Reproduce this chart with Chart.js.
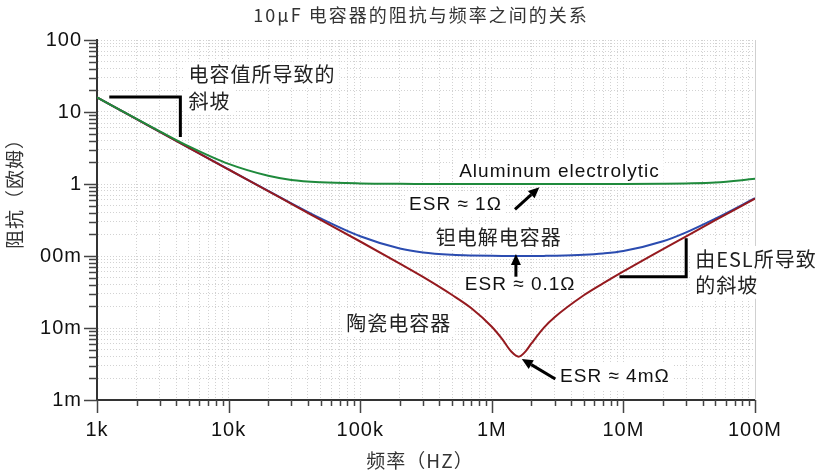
<!DOCTYPE html>
<html>
<head>
<meta charset="utf-8">
<script src="https://cdn.jsdelivr.net/npm/chart.js@4/dist/chart.umd.min.js"></script>
<style>
  html, body { margin: 0; padding: 0; background: #fff; }
  canvas { display: block; }
</style>
</head>
<body>
<canvas id="zchart" width="824" height="474"></canvas>
<script>
// impedance vs frequency
const freqHz = [1e3, 2e3, 3e3, 5e3, 1e4, 2e4, 3e4, 5e4, 1e5, 2e5, 3e5, 5e5, 7e5,
  1e6, 1.2e6, 1.4e6, 1.6e6, 1.8e6, 2e6, 2.5e6, 3e6, 5e6, 7e6, 1e7, 2e7, 3e7, 5e7, 1e8];

const aluminumZ = [15.95, 8.02, 5.40, 3.33, 1.90, 1.30, 1.14, 1.06, 1.02, 1.006, 1.003, 1.0, 1.0,
  1.0, 1.0, 1.0, 1.0, 1.0, 1.0, 1.0, 1.0, 1.0, 1.001, 1.002, 1.008, 1.018, 1.048, 1.18];

const tantalumZ = [15.92, 7.96, 5.31, 3.18, 1.594, 0.802, 0.540, 0.333, 0.188, 0.127, 0.112, 0.104, 0.1017,
  0.1005, 0.1002, 0.1001, 0.1, 0.1001, 0.1001, 0.1004, 0.1009, 0.1039, 0.1083, 0.1172, 0.160, 0.213, 0.330, 0.636];

const ceramicZ = [15.92, 7.96, 5.31, 3.18, 1.59, 0.796, 0.530, 0.318, 0.159, 0.0783, 0.0512, 0.0287, 0.0188,
  0.0104, 0.0070, 0.00475, 0.0040, 0.0047, 0.0061, 0.0102, 0.0141, 0.0285, 0.0417, 0.0612, 0.125, 0.188, 0.314, 0.628];

const xTickValues = [1e3, 1e4, 1e5, 1e6, 1e7, 1e8];
const xTickLabels = ['1k', '10k', '100k', '1M', '10M', '100M'];
const yTickValues = [1e-3, 1e-2, 1e-1, 1, 10, 100];
const yTickLabels = ['1m', '10m', '00m', '1', '10', '100'];

const LATIN = '"Liberation Sans", Arial, sans-serif';
const CJK = '"Noto Sans CJK SC", "Liberation Sans", sans-serif';

// minor ticks: 2..9 inside every decade
function withMinors(decades) {
  const out = [];
  decades.forEach((d, i) => {
    out.push(d);
    if (i < decades.length - 1) for (let k = 2; k <= 9; k++) out.push(d * k);
  });
  return out;
}

const pts = arr => freqHz.map((f, i) => ({ x: f, y: arr[i] }));

// annotations in data coordinates (Hz, ohm)
const notes = [
  { text: '电容值所导致的', f: 4.95e3, z: 33, font: '20px ' + CJK, color: '#222' },
  { text: '斜坡', f: 4.95e3, z: 14.1, font: '20px ' + CJK, color: '#222' },
  { text: 'Aluminum electrolytic', f: 5.65e5, z: 1.48, font: '19px ' + LATIN, color: '#111' },
  { text: 'ESR ≈ 1Ω', f: 2.35e5, z: 0.522, font: '19px ' + LATIN, color: '#111' },
  { text: '钽电解电容器', f: 3.75e5, z: 0.182, font: '20px ' + CJK, color: '#222' },
  { text: 'ESR ≈ 0.1Ω', f: 6.24e5, z: 0.0395, font: '19px ' + LATIN, color: '#111' },
  { text: '由ESL所导致', f: 3.51e7, z: 0.0909, font: '20px ' + CJK, color: '#222' },
  { text: '的斜坡', f: 3.51e7, z: 0.0387, font: '20px ' + CJK, color: '#222' },
  { text: '陶瓷电容器', f: 7.85e4, z: 0.0116, font: '20px ' + CJK, color: '#222' },
  { text: 'ESR ≈ 4mΩ', f: 3.3e6, z: 0.00209, font: '19px ' + LATIN, color: '#111' },
];
const arrows = [
  { from: [1.5e6, 0.445], to: [2.3e6, 0.90] },
  { from: [1.525e6, 0.0516], to: [1.525e6, 0.1066] },
  { from: [3.04e6, 0.00196], to: [1.69e6, 0.00371] },
];
const brackets = [
  [[1.24e3, 16.2], [4.3e3, 16.2], [4.3e3, 4.5]],
  [[9.33e6, 0.0516], [3.0e7, 0.0516], [3.0e7, 0.176]],
];

const annotate = {
  id: 'annotate',
  beforeDraw(chart) {
    chart.ctx.letterSpacing = '1px';
  },
  beforeDatasetsDraw(chart) {
    const { ctx, scales: { x, y }, chartArea: a } = chart;
    ctx.save();
    // light frame on right edge
    ctx.strokeStyle = '#d0d0d0';
    ctx.lineWidth = 1;
    ctx.beginPath();
    ctx.moveTo(a.right + 0.5, a.top);
    ctx.lineTo(a.right + 0.5, a.bottom);
    ctx.stroke();
    // white boxes under the labels
    ctx.fillStyle = '#fff';
    for (const n of notes) {
      ctx.font = n.font;
      ctx.letterSpacing = '1px';
      const w = ctx.measureText(n.text).width;
      ctx.fillRect(x.getPixelForValue(n.f) - 4, y.getPixelForValue(n.z) - 13, w + 8, 26);
    }
    ctx.restore();
  },
  afterDatasetsDraw(chart) {
    const { ctx, scales: { x, y } } = chart;
    const P = (f, z) => [x.getPixelForValue(f), y.getPixelForValue(z)];
    ctx.save();
    ctx.strokeStyle = '#000';
    ctx.fillStyle = '#000';
    ctx.lineWidth = 3;
    for (const b of brackets) {
      ctx.beginPath();
      b.forEach((p, i) => {
        const [px, py] = P(p[0], p[1]);
        i ? ctx.lineTo(px, py) : ctx.moveTo(px, py);
      });
      ctx.stroke();
    }
    for (const ar of arrows) {
      const [x1, y1] = P(ar.from[0], ar.from[1]);
      const [x2, y2] = P(ar.to[0], ar.to[1]);
      const ang = Math.atan2(y2 - y1, x2 - x1);
      const hl = 11, hw = 5;
      const bx = x2 - hl * Math.cos(ang), by = y2 - hl * Math.sin(ang);
      ctx.beginPath();
      ctx.moveTo(x1, y1);
      ctx.lineTo(bx, by);
      ctx.stroke();
      ctx.beginPath();
      ctx.moveTo(x2, y2);
      ctx.lineTo(bx + hw * Math.sin(ang), by - hw * Math.cos(ang));
      ctx.lineTo(bx - hw * Math.sin(ang), by + hw * Math.cos(ang));
      ctx.closePath();
      ctx.fill();
    }
    ctx.textBaseline = 'middle';
    ctx.textAlign = 'left';
    for (const n of notes) {
      ctx.font = n.font;
      ctx.letterSpacing = '1px';
      ctx.fillStyle = n.color;
      const [px, py] = P(n.f, n.z);
      ctx.fillText(n.text, px, py);
    }
    ctx.restore();
  },
  afterDraw(chart) {
    const { ctx, scales: { x, y }, chartArea: a } = chart;
    ctx.save();
    // tick marks, long on decades, short on the minors
    ctx.strokeStyle = '#444';
    ctx.lineWidth = 1.5;
    ctx.beginPath();
    withMinors(yTickValues).forEach(v => {
      const py = Math.round(y.getPixelForValue(v)) + 0.5;
      const len = yTickValues.includes(v) ? 13 : 8;
      ctx.moveTo(a.left - len, py);
      ctx.lineTo(a.left, py);
    });
    withMinors(xTickValues).forEach(v => {
      const px = Math.round(x.getPixelForValue(v)) + 0.5;
      const len = xTickValues.includes(v) ? 13 : 6;
      ctx.moveTo(px, a.bottom);
      ctx.lineTo(px, a.bottom + len);
    });
    ctx.stroke();
    // titles
    ctx.fillStyle = '#333';
    ctx.textAlign = 'center';
    ctx.textBaseline = 'middle';
    ctx.font = '18px ' + CJK;
    ctx.letterSpacing = '2px';
    ctx.fillText('10µF 电容器的阻抗与频率之间的关系', 421, 15);
    ctx.font = '19px ' + CJK;
    ctx.letterSpacing = '1px';
    ctx.fillText('频率（HZ）', 420, 461);
    ctx.translate(15, 189);
    ctx.rotate(-Math.PI / 2);
    ctx.fillText('阻抗（欧姆）', 0, 0);
    ctx.restore();
  }
};

const tickFont = { family: LATIN, size: 20 };

new Chart(document.getElementById('zchart'), {
  type: 'line',
  data: {
    // first dataset is painted on top
    datasets: [
      { label: 'Aluminum electrolytic', data: pts(aluminumZ), borderColor: '#1f8a3c' },
      { label: '陶瓷电容器', data: pts(ceramicZ), borderColor: '#951a1f' },
      { label: '钽电解电容器', data: pts(tantalumZ), borderColor: '#2b4cb0' },
    ].map(d => ({ ...d, borderWidth: 2, pointRadius: 0, fill: false, cubicInterpolationMode: 'monotone' })),
  },
  options: {
    responsive: false,
    animation: false,
    events: [],
    layout: { padding: { top: 40, right: 69, left: 0, bottom: 0 } },
    plugins: { legend: { display: false }, title: { display: false }, tooltip: { enabled: false } },
    scales: {
      x: {
        type: 'logarithmic', min: 1e3, max: 1e8,
        afterBuildTicks: s => { s.ticks = withMinors(xTickValues).map(v => ({ value: v })); },
        afterFit: s => { s.height = 74; },
        ticks: {
          autoSkip: false, maxRotation: 0, padding: 18, font: tickFont, color: '#111',
          callback: v => { const i = xTickValues.indexOf(v); return i >= 0 ? xTickLabels[i] : ''; },
        },
        grid: { color: '#d2d2d2', lineWidth: 1, drawTicks: false },
        border: { color: '#333', width: 2, dash: [1, 2] },
      },
      y: {
        type: 'logarithmic', min: 1e-3, max: 100,
        afterBuildTicks: s => { s.ticks = withMinors(yTickValues).map(v => ({ value: v })); },
        afterFit: s => { s.width = 97; },
        ticks: {
          autoSkip: false, padding: 15, font: tickFont, color: '#111',
          callback: v => { const i = yTickValues.indexOf(v); return i >= 0 ? yTickLabels[i] : ''; },
        },
        grid: { color: '#d2d2d2', lineWidth: 1, drawTicks: false },
        border: { color: '#333', width: 2, dash: [1, 2] },
      },
    },
  },
  plugins: [annotate],
});
</script>
</body>
</html>
